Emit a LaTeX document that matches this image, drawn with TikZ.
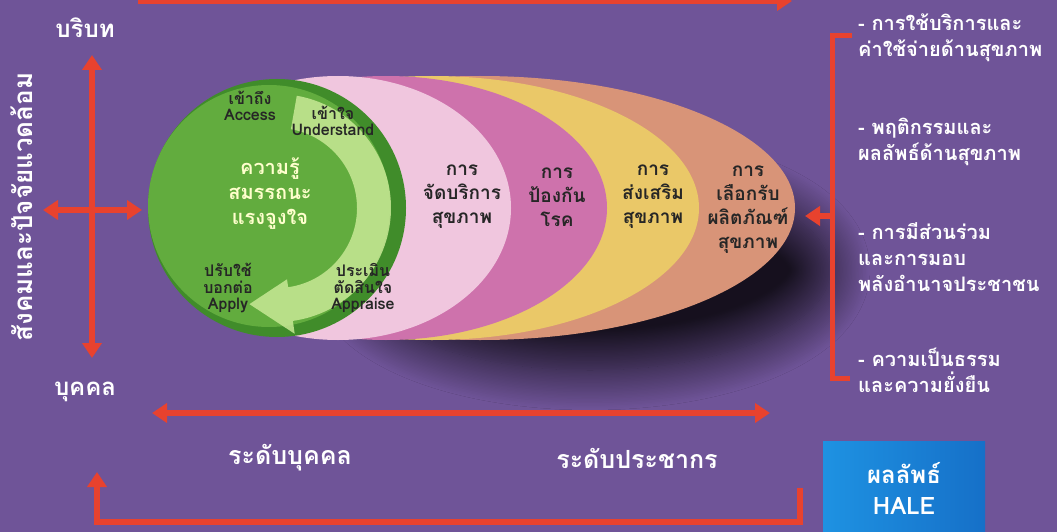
\documentclass[tikz,border=0pt]{standalone}
\usepackage{fontspec}
\setmainfont[Script=Thai]{Loma}
\usetikzlibrary{arrows.meta, calc, shadows.blur}
\definecolor{bgpurple}{RGB}{111, 84, 152}
\definecolor{arrowred}{RGB}{232, 66, 46}
\definecolor{circgreen}{RGB}{98, 172, 62}
\definecolor{rimgreen}{RGB}{64, 140, 42}
\definecolor{bandgreen}{RGB}{200, 232, 150}
\definecolor{lightpink}{RGB}{240, 198, 222}
\definecolor{rosepink}{RGB}{206, 114, 172}
\definecolor{sandyellow}{RGB}{234, 200, 104}
\definecolor{salmon}{RGB}{216, 148, 120}
\definecolor{haleblue}{RGB}{30, 146, 226}
\definecolor{haledark}{RGB}{22, 112, 200}
\definecolor{paleyellow}{RGB}{255, 255, 205}

\begin{document}
\begin{tikzpicture}[
    x=1pt, y=1pt,
    font=\bfseries,
    redline/.style={draw=arrowred, line width=6pt},
    onehead/.style={redline, -{Triangle[width=19pt, length=15pt]}},
    twohead/.style={redline, {Triangle[width=19pt, length=15pt]}-{Triangle[width=19pt, length=15pt]}},
    sidelabel/.style={text=white, font=\bfseries\fontsize{24}{26}\selectfont},
    levellabel/.style={text=white, font=\bfseries\fontsize{25}{27}\selectfont},
    listitem/.style={text=white, anchor=west, align=left, inner sep=0pt,
        font=\bfseries\fontsize{20}{26}\selectfont},
    layertext/.style={text=black!85, align=center, inner sep=0pt,
        font=\bfseries\fontsize{19}{24}\selectfont},
    cycletext/.style={text=black!85, align=center, inner sep=0pt,
        font=\bfseries\fontsize{16}{16.5}\selectfont},
    halebox/.style={fill=haleblue, left color=haleblue, right color=haledark,
        text=white, align=center, minimum width=162pt, minimum height=94pt,
        font=\bfseries\fontsize{24}{31}\selectfont}
]

    % Background
    \fill[bgpurple] (0,0) rectangle (1057,-532);
    \useasboundingbox (0,0) rectangle (1057,-532);

    % Soft shadow under the right part of the layers
    \path[blur shadow={shadow xshift=0pt, shadow yshift=0pt,
        shadow blur radius=40pt, shadow blur steps=30, shadow opacity=80}]
        (590,-270) ellipse [x radius=240pt, y radius=100pt];

    % Layers (outer to inner)
    \fill[salmon]     (480,-208) ellipse [x radius=315pt, y radius=132pt];
    \fill[sandyellow] (432,-208) ellipse [x radius=267pt, y radius=132pt];
    \fill[rosepink]   (386,-208) ellipse [x radius=221pt, y radius=132pt];
    \fill[lightpink]  (338,-208) ellipse [x radius=173pt, y radius=132pt];

    % Green circle with rim
    \coordinate (core) at (277,-208);
    \fill[rimgreen] (core) circle [radius=129pt];
    \fill[circgreen] ($(core)+(-8,2)$) circle [radius=121pt];

    % Curved arrow inside the circle
    \fill[bandgreen, opacity=0.85]
        ($(core)+(80:114)$) arc[start angle=80, end angle=-82, radius=114pt]
        -- ($(core)+(-82:127)$) -- ($(core)+(-106:100)$) -- ($(core)+(-82:72)$)
        -- ($(core)+(-82:80)$) arc[start angle=-82, end angle=80, radius=80pt]
        -- cycle;

    % Circle texts
    \node[cycletext] (access) at (250,-106) {เข้าถึง\\Access};
    \node[cycletext] (understand) at (333,-121) {เข้าใจ\\Understand};
    \node[cycletext] (apply) at (228,-288) {ปรับใช้\\บอกต่อ\\Apply};
    \node[cycletext] (appraise) at (363,-288) {ประเมิน\\ตัดสินใจ\\Appraise};
    \node[text=paleyellow, align=center, inner sep=0pt,
        font=\bfseries\fontsize{20}{25}\selectfont]
        (knowledge) at (270,-194) {ความรู้\\สมรรถนะ\\แรงจูงใจ};

    % Layer texts
    \node[layertext] (service) at (462,-197) {การ\\จัดบริการ\\สุขภาพ};
    \node[layertext] (prevent) at (557,-197) {การ\\ป้องกัน\\โรค};
    \node[layertext] (promote) at (653,-197) {การ\\ส่งเสริม\\สุขภาพ};
    \node[layertext] (choose)  at (748,-210) {การ\\เลือกรับ\\ผลิตภัณฑ์\\สุขภาพ};

    % Left axis
    \node[sidelabel] (context) at (85,-28) {บริบท};
    \node[sidelabel] (person)  at (85,-392) {บุคคล};
    \node[sidelabel, font=\bfseries\fontsize{26}{28}\selectfont, rotate=90]
        (society) at (22,-207) {สังคมและปัจจัยแวดล้อม};
    \coordinate (ctxtop) at (92,-55);
    \coordinate (ctxbot) at (92,-358);
    \coordinate (envleft)  at (43,-210);
    \coordinate (envright) at (142,-210);
    \draw[twohead] (ctxbot) -- (ctxtop);
    \draw[twohead] (envleft) -- (envright);

    % Top arrow (cut by the page edge)
    \coordinate (topstart) at (138,-1);
    \coordinate (topend)   at (792,-1);
    \draw[onehead] (topstart) -- (topend);

    % Levels
    \coordinate (levelleft)  at (152,-413);
    \coordinate (levelright) at (770,-413);
    \draw[twohead] (levelleft) -- (levelright);
    \node[levellabel] (indiv) at (290,-458) {ระดับบุคคล};
    \node[levellabel] (popul) at (637,-458) {ระดับประชากร};

    % Outcome box and feedback arrow
    \node[halebox] (hale) at (904,-488) {ผลลัพธ์\\HALE};
    \coordinate (fbstart) at (800,-488);
    \coordinate (fbdown)  at (800,-522);
    \coordinate (fbleft)  at (97,-522);
    \coordinate (fbend)   at (97,-472);
    \draw[onehead] (fbstart) -- (fbdown) -- (fbleft) -- (fbend);

    % Right bracket
    \coordinate (brtop)    at (852,-36);
    \coordinate (brtopc)   at (832,-36);
    \coordinate (brbotc)   at (832,-378);
    \coordinate (brbot)    at (850,-378);
    \coordinate (brmid)    at (832,-216);
    \coordinate (brtip)    at (805,-216);
    \draw[redline, line width=5pt] (brtop) -- (brtopc) -- (brbotc) -- (brbot);
    \draw[onehead] (brmid) -- (brtip);

    % Outcome list
    \node[listitem] (use)    at (858,-38)  {- การใช้บริการและ\\ค่าใช้จ่ายด้านสุขภาพ};
    \node[listitem] (behav)  at (858,-142) {- พฤติกรรมและ\\ผลลัพธ์ด้านสุขภาพ};
    \node[listitem] (partic) at (858,-257) {- การมีส่วนร่วม\\และการมอบ\\พลังอำนาจประชาชน};
    \node[listitem] (equity) at (858,-370) {- ความเป็นธรรม\\และความยั่งยืน};

\end{tikzpicture}
\end{document}
